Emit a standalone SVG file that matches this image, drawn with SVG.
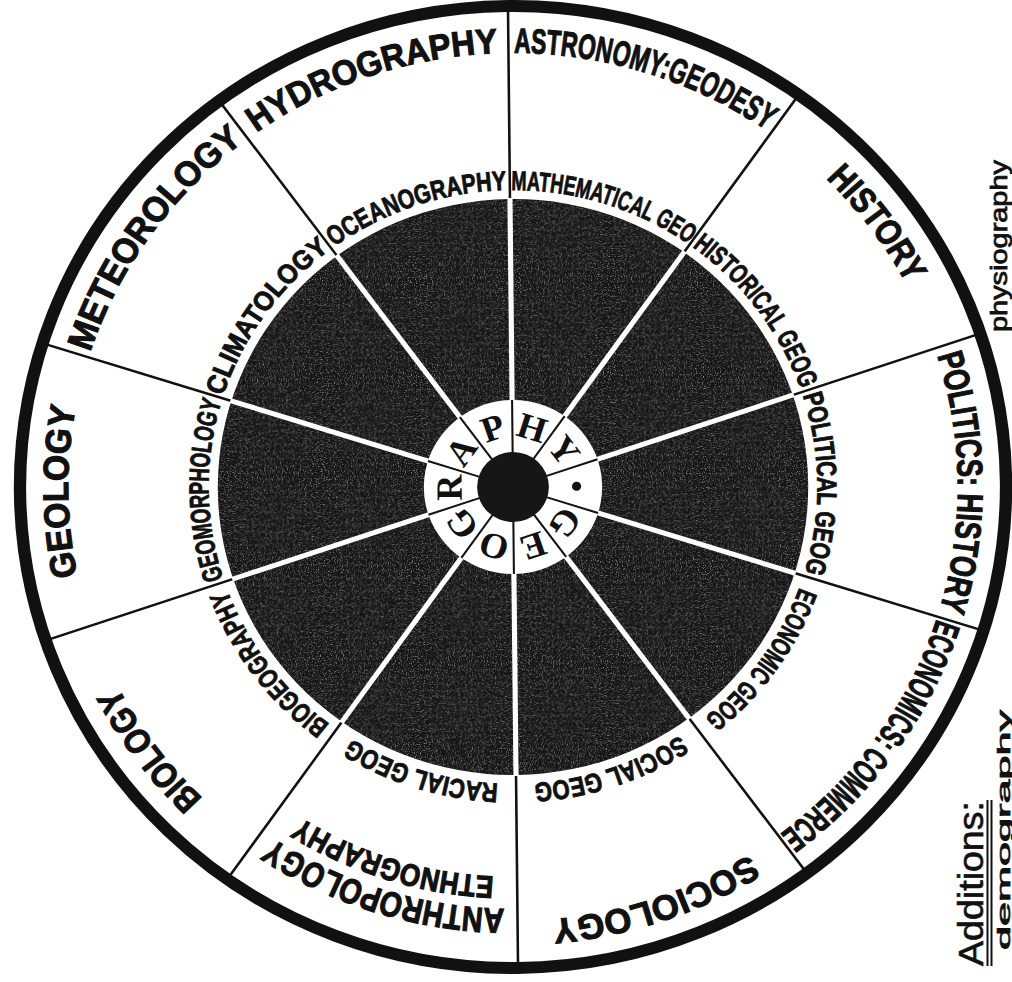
<svg xmlns="http://www.w3.org/2000/svg" xmlns:xlink="http://www.w3.org/1999/xlink" width="1012" height="982" viewBox="0 0 1012 982">
<style>
.out{font-family:"Liberation Sans","DejaVu Sans",sans-serif;font-weight:bold;font-size:35px;fill:#111;stroke:#111;stroke-width:1.1;text-anchor:middle}
.inn{font-family:"Liberation Sans","DejaVu Sans",sans-serif;font-weight:bold;font-size:27px;fill:#111;stroke:#111;stroke-width:0.9;text-anchor:middle}
.ctr{font-family:"Liberation Serif","DejaVu Serif",serif;font-weight:bold;font-size:36px;fill:#111;text-anchor:middle;dominant-baseline:central}
.hand{font-family:"Liberation Sans","DejaVu Sans",sans-serif;font-size:24px;fill:#111;stroke:#111;stroke-width:0.8}
.divB{stroke:#111;stroke-width:2.5}
.divW{stroke:#fff;stroke-width:5}
.divC{stroke:#111;stroke-width:2}
</style>
<defs>
<path id="rO" d="M 79 487 A 434 434 0 1 1 947 487 A 434 434 0 1 1 79 487"/>
<path id="rA" d="M 91 487 A 422 422 0 1 1 935 487 A 422 422 0 1 1 91 487"/>
<path id="rE" d="M 123 487 A 390 390 0 1 1 903 487 A 390 390 0 1 1 123 487"/>
<path id="rI" d="M 216 487 A 297 297 0 1 1 810 487 A 297 297 0 1 1 216 487"/>
<line id="lB" x1="800" y1="487" x2="992" y2="487" class="divB"/>
<line id="lW" x1="598" y1="487" x2="802" y2="487" class="divW"/>
<line id="lC" x1="547" y1="487" x2="600" y2="487" class="divC"/>
<filter id="grain" x="0" y="0" width="1" height="1">
  <feTurbulence type="fractalNoise" baseFrequency="0.85" numOctaves="2" seed="7" result="n"/>
  <feColorMatrix in="n" type="matrix" values="0 0 0 0 1  0 0 0 0 1  0 0 0 0 1  0 0 0 4 -2.1" result="s"/>
  <feComposite in="s" in2="SourceGraphic" operator="in"/>
</filter>
</defs>
<rect width="1012" height="982" fill="#fff"/>
<g id="wheel" transform="rotate(-0.6 513 487) translate(513 487) scale(1.025 1) translate(-513 -487)">
  <g id="rings">
    <circle cx="513" cy="487" r="481" fill="#fff" stroke="#111" stroke-width="12"/>
    <circle cx="513" cy="487" r="288" fill="#161616"/>
    <circle cx="513" cy="487" r="288" fill="#fff" opacity="0.45" filter="url(#grain)"/>
  </g>
  <g id="connectors">
    <use href="#lB" transform="rotate(-90 513 487)"/>
    <use href="#lB" transform="rotate(-54 513 487)"/>
    <use href="#lB" transform="rotate(-18 513 487)"/>
    <use href="#lB" transform="rotate(18 513 487)"/>
    <use href="#lB" transform="rotate(54 513 487)"/>
    <use href="#lB" transform="rotate(90 513 487)"/>
    <use href="#lB" transform="rotate(126 513 487)"/>
    <use href="#lB" transform="rotate(162 513 487)"/>
    <use href="#lB" transform="rotate(198 513 487)"/>
    <use href="#lB" transform="rotate(234 513 487)"/>
    <use href="#lW" transform="rotate(-90 513 487)"/>
    <use href="#lW" transform="rotate(-54 513 487)"/>
    <use href="#lW" transform="rotate(-18 513 487)"/>
    <use href="#lW" transform="rotate(18 513 487)"/>
    <use href="#lW" transform="rotate(54 513 487)"/>
    <use href="#lW" transform="rotate(90 513 487)"/>
    <use href="#lW" transform="rotate(126 513 487)"/>
    <use href="#lW" transform="rotate(162 513 487)"/>
    <use href="#lW" transform="rotate(198 513 487)"/>
    <use href="#lW" transform="rotate(234 513 487)"/>
  </g>
  <g id="hub">
    <circle cx="513" cy="487" r="87" fill="#fff"/>
    <use href="#lC" transform="rotate(-90 513 487)"/>
    <use href="#lC" transform="rotate(-54 513 487)"/>
    <use href="#lC" transform="rotate(-18 513 487)"/>
    <use href="#lC" transform="rotate(18 513 487)"/>
    <use href="#lC" transform="rotate(54 513 487)"/>
    <use href="#lC" transform="rotate(90 513 487)"/>
    <use href="#lC" transform="rotate(126 513 487)"/>
    <use href="#lC" transform="rotate(162 513 487)"/>
    <use href="#lC" transform="rotate(198 513 487)"/>
    <use href="#lC" transform="rotate(234 513 487)"/>
    <circle cx="513" cy="487" r="35" fill="#161616"/>
  </g>
  <g id="geography-letters">
    <text class="ctr" x="513" y="425" transform="rotate(126 513 487)">G</text>
    <text class="ctr" x="513" y="425" transform="rotate(162 513 487)">E</text>
    <text class="ctr" x="513" y="425" transform="rotate(198 513 487)">O</text>
    <text class="ctr" x="513" y="425" transform="rotate(234 513 487)">G</text>
    <text class="ctr" x="513" y="425" transform="rotate(270 513 487)">R</text>
    <text class="ctr" x="513" y="425" transform="rotate(306 513 487)">A</text>
    <text class="ctr" x="513" y="425" transform="rotate(342 513 487)">P</text>
    <text class="ctr" x="513" y="425" transform="rotate(18 513 487)">H</text>
    <text class="ctr" x="513" y="425" transform="rotate(54 513 487)">Y</text>
    <circle cx="575" cy="487" r="4.5" fill="#111"/>
  </g>
  <g id="sector-hydrography" transform="rotate(-108 513 487)">
    <text class="out"><textPath href="#rO" startOffset="50%" textLength="252" lengthAdjust="spacingAndGlyphs">HYDROGRAPHY</textPath></text>
    <text class="inn"><textPath href="#rI" startOffset="50%" textLength="180" lengthAdjust="spacingAndGlyphs">OCEANOGRAPHY</textPath></text>
  </g>
  <g id="sector-astronomy" transform="rotate(-72 513 487)">
    <text class="out"><textPath href="#rO" startOffset="50%" textLength="262" lengthAdjust="spacingAndGlyphs">ASTRONOMY:GEODESY</textPath></text>
    <text class="inn"><textPath href="#rI" startOffset="50%" textLength="184" lengthAdjust="spacingAndGlyphs">MATHEMATICAL GEO</textPath></text>
  </g>
  <g id="sector-history" transform="rotate(-36 513 487)">
    <text class="out"><textPath href="#rO" startOffset="50%" textLength="132" lengthAdjust="spacingAndGlyphs">HISTORY</textPath></text>
    <text class="inn"><textPath href="#rI" startOffset="50%" textLength="180" lengthAdjust="spacingAndGlyphs">HISTORICAL GEOG</textPath></text>
  </g>
  <g id="sector-politics" transform="rotate(0 513 487)">
    <text class="out"><textPath href="#rO" startOffset="50%" textLength="258" lengthAdjust="spacingAndGlyphs">POLITICS: HISTORY</textPath></text>
    <text class="inn"><textPath href="#rI" startOffset="50%" textLength="180" lengthAdjust="spacingAndGlyphs">POLITICAL GEOG</textPath></text>
  </g>
  <g id="sector-economics" transform="rotate(36 513 487)">
    <text class="out"><textPath href="#rO" startOffset="50%" textLength="268" lengthAdjust="spacingAndGlyphs">ECONOMICS: COMMERCE</textPath></text>
    <text class="inn"><textPath href="#rI" startOffset="50%" textLength="162" lengthAdjust="spacingAndGlyphs">ECONOMIC GEOG</textPath></text>
  </g>
  <g id="sector-sociology" transform="rotate(72 513 487)">
    <text class="out"><textPath href="#rO" startOffset="50%" textLength="205" lengthAdjust="spacingAndGlyphs">SOCIOLOGY</textPath></text>
    <text class="inn"><textPath href="#rI" startOffset="50%" textLength="152" lengthAdjust="spacingAndGlyphs">SOCIAL GEOG</textPath></text>
  </g>
  <g id="sector-anthropology" transform="rotate(108 513 487)">
    <text class="out"><textPath href="#rA" startOffset="50%" textLength="240" lengthAdjust="spacingAndGlyphs">ANTHROPOLOGY</textPath></text>
    <text class="out" style="font-size:31px"><textPath href="#rE" startOffset="50%" textLength="200" lengthAdjust="spacingAndGlyphs">ETHNOGRAPHY</textPath></text>
    <text class="inn"><textPath href="#rI" startOffset="50%" textLength="152" lengthAdjust="spacingAndGlyphs">RACIAL GEOG</textPath></text>
  </g>
  <g id="sector-biology" transform="rotate(144 513 487)">
    <text class="out"><textPath href="#rO" startOffset="50%" textLength="140" lengthAdjust="spacingAndGlyphs">BIOLOGY</textPath></text>
    <text class="inn"><textPath href="#rI" startOffset="50%" textLength="170" lengthAdjust="spacingAndGlyphs">BIOGEOGRAPHY</textPath></text>
  </g>
  <g id="sector-geology" transform="rotate(180 513 487)">
    <text class="out"><textPath href="#rO" startOffset="50%" textLength="170" lengthAdjust="spacingAndGlyphs">GEOLOGY</textPath></text>
    <text class="inn"><textPath href="#rI" startOffset="50%" textLength="180" lengthAdjust="spacingAndGlyphs">GEOMORPHOLOGY</textPath></text>
  </g>
  <g id="sector-meteorology" transform="rotate(216 513 487)">
    <text class="out"><textPath href="#rO" startOffset="50%" textLength="262" lengthAdjust="spacingAndGlyphs">METEOROLOGY</textPath></text>
    <text class="inn"><textPath href="#rI" startOffset="50%" textLength="182" lengthAdjust="spacingAndGlyphs">CLIMATOLOGY</textPath></text>
  </g>
</g>
<g id="notes">
  <text class="hand" transform="translate(1007 332) rotate(-90)" textLength="172" lengthAdjust="spacingAndGlyphs">physiography</text>
  <text class="hand" style="font-size:35px;stroke-width:0.6" transform="translate(983 966) rotate(-90)" textLength="165" lengthAdjust="spacingAndGlyphs">Additions:</text>
  <line x1="987.5" y1="966" x2="987.5" y2="800" stroke="#111" stroke-width="2"/>
  <line x1="991.5" y1="966" x2="991.5" y2="800" stroke="#111" stroke-width="2"/>
  <text class="hand" style="font-size:19px;stroke-width:0.7" transform="translate(1010 950) rotate(-90)" textLength="240" lengthAdjust="spacingAndGlyphs">demography</text>
</g>
</svg>
